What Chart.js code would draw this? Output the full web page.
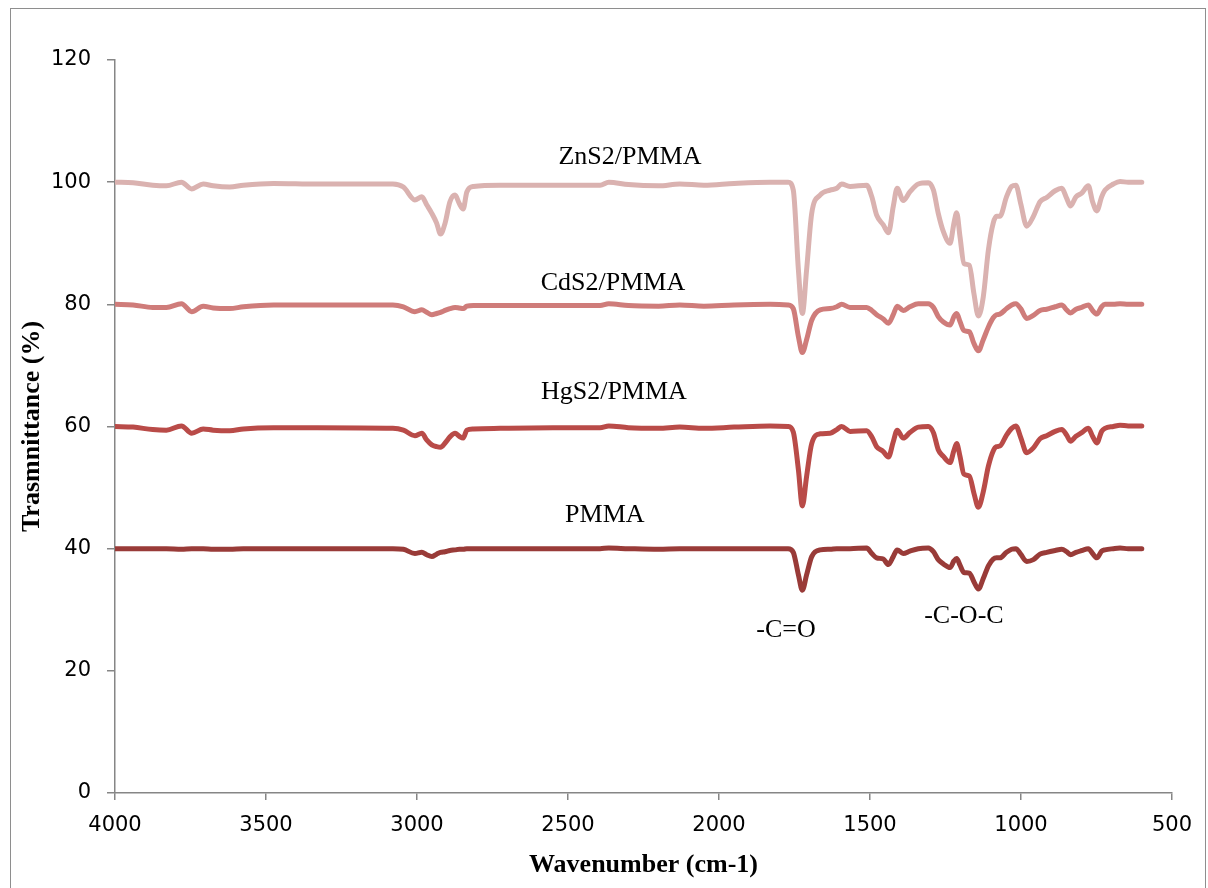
<!DOCTYPE html>
<html>
<head>
<meta charset="utf-8">
<script src="https://cdn.jsdelivr.net/npm/chart.js@4.4.1/dist/chart.umd.min.js"></script>
<style>
  html, body { margin: 0; padding: 0; background: #fff; }
  #wrap { position: relative; width: 1208px; height: 888px; overflow: hidden; }
  #frame { position: absolute; left: 10px; top: 8px; width: 1196px; height: 900px;
           border: 1px solid #8e8e8e; box-sizing: border-box; pointer-events: none; }
</style>
</head>
<body>
<div id="wrap">
  <canvas id="c" width="1208" height="888"></canvas>
  <div id="frame"></div>
</div>
<script>
// FTIR spectra: wavenumber (cm-1) and transmittance (%) for each film
const wavenumbers = [
  4000, 3940, 3875, 3830, 3780, 3746, 3708, 3675, 3620, 3575, 3475, 3330, 3080, 3045,
  3007, 2984, 2968, 2951, 2935, 2922, 2907, 2891, 2874, 2860, 2847, 2835, 2813, 2725,
  2550, 2394, 2365, 2300, 2200, 2130, 2050, 1950, 1831, 1771, 1754, 1737, 1724, 1710,
  1693, 1665, 1632, 1610, 1594, 1566, 1511, 1494, 1478, 1456, 1439, 1423, 1410, 1390,
  1368, 1340, 1307, 1290, 1274, 1257, 1235, 1222, 1213, 1202, 1189, 1171, 1156, 1141,
  1125, 1108, 1092, 1081, 1070, 1048, 1031, 1017, 1001, 981, 959, 937, 915, 887,
  865, 849, 836, 818, 799, 777, 763, 749, 733, 722, 694, 672, 645, 600
];

const zns2Pmma = [
  100.0, 99.9, 99.5, 99.4, 100.0, 98.9, 99.7, 99.4, 99.2, 99.5, 99.8, 99.7, 99.7, 99.2,
  97.1, 97.6, 96.3, 94.9, 93.3, 91.5, 93.3, 96.8, 97.9, 96.5, 95.6, 98.4, 99.3, 99.5,
  99.5, 99.5, 100.0, 99.6, 99.4, 99.7, 99.5, 99.8, 100.0, 100.0, 98.7, 85.6, 78.5, 85.6,
  94.9, 97.9, 98.7, 99.0, 99.7, 99.3, 99.5, 97.6, 94.6, 93.0, 91.7, 96.0, 99.0, 97.0,
  98.4, 99.7, 99.9, 98.7, 94.9, 91.9, 90.0, 93.3, 95.0, 91.1, 86.7, 86.4, 81.8, 78.1,
  81.2, 88.9, 93.3, 94.4, 94.4, 97.6, 99.3, 99.5, 96.5, 92.8, 94.4, 96.8, 97.5, 98.6,
  99.0, 97.4, 96.1, 97.6, 98.2, 99.4, 96.8, 95.3, 97.6, 98.7, 99.7, 100.1, 100.0, 100.0
];

const cds2Pmma = [
  80.0, 79.9, 79.5, 79.5, 80.1, 78.8, 79.7, 79.4, 79.3, 79.6, 79.9, 79.9, 79.9, 79.6,
  78.8, 79.1, 78.7, 78.3, 78.5, 78.7, 79.0, 79.3, 79.5, 79.4, 79.3, 79.7, 79.8, 79.8,
  79.8, 79.8, 80.1, 79.8, 79.7, 79.9, 79.7, 79.9, 80.0, 79.9, 79.3, 74.7, 72.1, 74.2,
  77.4, 79.1, 79.3, 79.6, 80.0, 79.5, 79.5, 79.0, 78.3, 77.6, 76.9, 78.3, 79.7, 79.0,
  79.6, 80.1, 80.1, 79.5, 78.0, 77.1, 76.6, 78.0, 78.5, 77.2, 75.7, 75.5, 73.6, 72.4,
  74.2, 76.3, 77.8, 78.3, 78.4, 79.3, 79.9, 80.1, 79.3, 77.7, 78.2, 79.0, 79.2, 79.6,
  79.9, 79.1, 78.6, 79.2, 79.5, 79.9, 79.0, 78.4, 79.6, 80.0, 80.0, 80.1, 80.0, 80.0
];

const hgs2Pmma = [
  60.0, 59.9, 59.5, 59.4, 60.1, 58.9, 59.6, 59.4, 59.3, 59.6, 59.8, 59.8, 59.7, 59.4,
  58.5, 58.9, 57.8, 57.0, 56.7, 56.6, 57.3, 58.3, 58.9, 58.4, 58.1, 59.4, 59.6, 59.7,
  59.8, 59.8, 60.1, 59.8, 59.7, 59.9, 59.7, 59.9, 60.1, 60.0, 59.1, 52.9, 47.0, 51.8,
  57.2, 58.8, 58.9, 59.5, 60.0, 59.2, 59.3, 58.3, 56.7, 55.9, 55.0, 57.5, 59.4, 58.1,
  59.0, 59.9, 60.0, 59.0, 56.2, 55.1, 54.1, 56.1, 57.2, 55.1, 52.2, 51.9, 49.1, 46.8,
  49.3, 53.5, 56.0, 56.7, 56.8, 58.6, 59.7, 60.1, 58.2, 55.7, 56.5, 58.0, 58.5, 59.2,
  59.5, 58.6, 57.6, 58.4, 59.0, 59.7, 58.4, 57.3, 59.2, 59.7, 60.0, 60.2, 60.1, 60.1
];

const pmma = [
  40.0, 40.0, 40.0, 40.0, 39.9, 40.0, 40.0, 39.9, 39.9, 40.0, 40.0, 40.0, 40.0, 39.9,
  39.2, 39.4, 39.0, 38.7, 39.1, 39.4, 39.5, 39.7, 39.8, 39.9, 39.9, 40.0, 40.0, 40.0,
  40.0, 40.0, 40.1, 40.0, 39.9, 40.0, 40.0, 40.0, 40.0, 40.0, 39.4, 35.7, 33.2, 35.7,
  38.7, 39.8, 39.9, 40.0, 40.0, 40.0, 40.1, 39.2, 38.5, 38.3, 37.4, 38.7, 39.8, 39.2,
  39.6, 40.0, 40.1, 39.5, 38.2, 37.5, 36.9, 38.0, 38.4, 37.3, 36.1, 36.0, 34.6, 33.4,
  35.1, 37.2, 38.3, 38.5, 38.5, 39.4, 39.9, 40.0, 39.1, 37.9, 38.2, 39.1, 39.4, 39.7,
  39.9, 39.5, 39.0, 39.4, 39.7, 40.0, 39.2, 38.5, 39.6, 39.8, 40.0, 40.1, 40.0, 40.0
];

const seriesNames = ['ZnS2/PMMA', 'CdS2/PMMA', 'HgS2/PMMA', 'PMMA'];
const xTickValues = [4000, 3500, 3000, 2500, 2000, 1500, 1000, 500];
const yTickValues = [0, 20, 40, 60, 80, 100, 120];

const seriesValues = [zns2Pmma, cds2Pmma, hgs2Pmma, pmma];
const seriesColors = ['#dab2b0', '#cf7c7a', '#b94b48', '#993b38'];

const datasets = seriesValues.map((vals, k) => ({
  label: seriesNames[k],
  data: wavenumbers.map((w, i) => ({ x: w, y: vals[i] })),
  borderColor: seriesColors[k],
  backgroundColor: seriesColors[k],
  fill: false
}));

// Curve names and band assignments written inside the plot, placed in data units
const textMarks = {
  id: 'textMarks',
  afterDatasetsDraw(chart) {
    const { ctx, scales: { x, y } } = chart;
    const items = [
      { text: seriesNames[0], wn: 2295, t: 104.1 },
      { text: seriesNames[1], wn: 2351, t: 83.5 },
      { text: seriesNames[2], wn: 2348, t: 65.6 },
      { text: seriesNames[3], wn: 2378, t: 45.5 },
      { text: '-C=O', wn: 1778, t: 26.7 },
      { text: '-C-O-C', wn: 1189, t: 29.0 }
    ];
    ctx.save();
    ctx.font = '26px "Liberation Serif"';
    ctx.fillStyle = '#000';
    ctx.textAlign = 'center';
    ctx.textBaseline = 'middle';
    items.forEach(it => ctx.fillText(it.text, x.getPixelForValue(it.wn), y.getPixelForValue(it.t)));
    ctx.restore();
  }
};

new Chart(document.getElementById('c'), {
  type: 'line',
  data: { datasets },
  plugins: [textMarks],
  options: {
    responsive: false,
    animation: false,
    devicePixelRatio: 1,
    layout: { padding: { left: 0, top: 60, right: 36, bottom: 0 } },
    plugins: { legend: { display: false }, tooltip: { enabled: false } },
    elements: {
      point: { radius: 0 },
      line: { borderWidth: 5, cubicInterpolationMode: 'monotone',
              borderCapStyle: 'round', borderJoinStyle: 'round' }
    },
    scales: {
      x: {
        type: 'linear', reverse: true, min: 500, max: 4000,
        afterBuildTicks: s => { s.ticks = xTickValues.map(v => ({ value: v })); },
        afterFit: s => { s.height = 95; },
        grid: { drawOnChartArea: false, drawTicks: true, tickLength: 7, color: '#868686', lineWidth: 1.5 },
        border: { color: '#868686', width: 1.5 },
        ticks: { font: { family: 'DejaVu Sans', size: 21 }, color: '#000', padding: 13,
                 maxRotation: 0, autoSkip: false, callback: v => String(v) },
        title: { display: true, text: 'Wavenumber (cm-1)', color: '#000',
                 font: { family: 'Liberation Serif', size: 26, weight: 'bold' },
                 padding: { top: 0, bottom: 7 } }
      },
      y: {
        min: 0, max: 120,
        afterBuildTicks: s => { s.ticks = yTickValues.map(v => ({ value: v })); },
        afterFit: s => { s.width = 115; },
        grid: { drawOnChartArea: false, drawTicks: true, tickLength: 8, color: '#868686', lineWidth: 1.5 },
        border: { color: '#868686', width: 1.5 },
        ticks: { font: { family: 'DejaVu Sans', size: 21 }, color: '#000', padding: 16,
                 callback: v => String(v) },
        title: { display: true, text: 'Trasmnittance (%)', color: '#000',
                 font: { family: 'Liberation Serif', size: 26, weight: 'bold' },
                 padding: { top: 17, bottom: 0 } }
      }
    }
  }
});
</script>
</body>
</html>
